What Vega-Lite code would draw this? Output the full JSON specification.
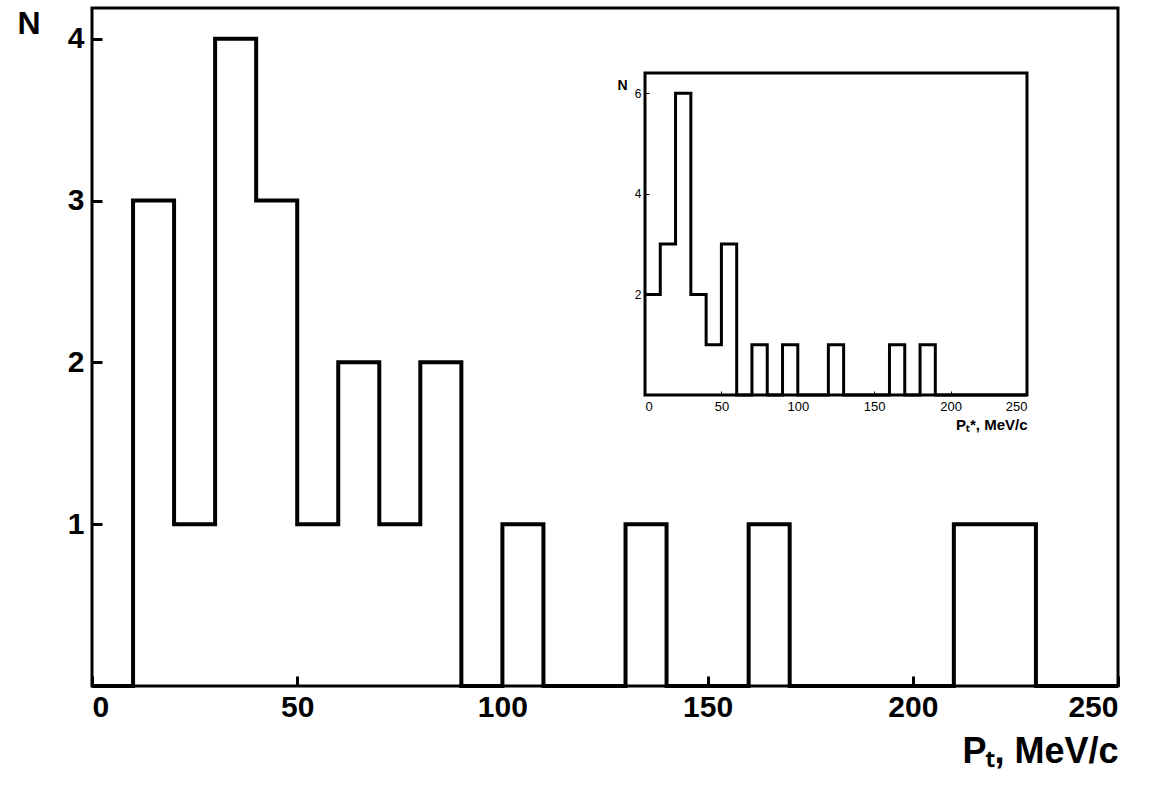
{
  "$schema": "https://vega.github.io/schema/vega-lite/v6.json",
  "width": 1026,
  "height": 678,
  "autosize": {"type": "none"},
  "padding": {"left": 92, "top": 8, "right": 41, "bottom": 116},
  "background": "white",
  "config": {
    "font": "Liberation Sans",
    "view": {"stroke": "black", "strokeWidth": 3},
    "axis": {"grid": false, "domain": false, "tickColor": "black", "labelColor": "black", "labelFont": "Liberation Sans", "labelFontWeight": "bold"}
  },
  "datasets": {
    "main": [
      {"pt": 0, "n": 0}, {"pt": 10, "n": 3}, {"pt": 20, "n": 1}, {"pt": 30, "n": 4},
      {"pt": 40, "n": 3}, {"pt": 50, "n": 1}, {"pt": 60, "n": 2}, {"pt": 70, "n": 1},
      {"pt": 80, "n": 2}, {"pt": 90, "n": 0}, {"pt": 100, "n": 1}, {"pt": 110, "n": 0},
      {"pt": 130, "n": 1}, {"pt": 140, "n": 0}, {"pt": 160, "n": 1}, {"pt": 170, "n": 0},
      {"pt": 210, "n": 1}, {"pt": 230, "n": 0}, {"pt": 250, "n": 0}
    ],
    "inset": [
      {"pt": 0, "n": 2}, {"pt": 10, "n": 3}, {"pt": 20, "n": 6}, {"pt": 30, "n": 2},
      {"pt": 40, "n": 1}, {"pt": 50, "n": 3}, {"pt": 60, "n": 0}, {"pt": 70, "n": 1},
      {"pt": 80, "n": 0}, {"pt": 90, "n": 1}, {"pt": 100, "n": 0}, {"pt": 120, "n": 1},
      {"pt": 130, "n": 0}, {"pt": 160, "n": 1}, {"pt": 170, "n": 0}, {"pt": 180, "n": 1},
      {"pt": 190, "n": 0}, {"pt": 250, "n": 0}
    ],
    "frame": [{"x0": 0, "x1": 250, "y0": 0, "y1": 6.4}]
  },
  "layer": [
    {
      "data": {"name": "main"},
      "mark": {"type": "line", "interpolate": "step-after", "color": "black", "strokeWidth": 4},
      "encoding": {
        "x": {"field": "pt", "type": "quantitative", "scale": {"domain": [0, 250], "nice": false},
          "axis": {"orient": "bottom", "values": [0, 50, 100, 150, 200, 250], "tickSize": -10, "tickWidth": 3, "labelFontSize": 30, "labelPadding": 16,
            "title": "Pₜ, MeV/c", "titleFontSize": 36, "titleFontWeight": "bold", "titleAnchor": "end", "titlePadding": 12, "titleColor": "black"}},
        "y": {"field": "n", "type": "quantitative", "scale": {"domain": [0, 4.19], "nice": false},
          "axis": {"orient": "left", "values": [1, 2, 3, 4], "tickSize": -10, "tickWidth": 3, "labelFontSize": 30, "labelPadding": 18,
            "title": "N", "titleAngle": 0, "titleFontSize": 32, "titleFontWeight": "bold", "titleAnchor": "end", "titleAlign": "right", "titleBaseline": "top", "titleX": -52, "titleY": 0, "titleColor": "black"}}
      }
    },
    {
      "data": {"name": "frame"},
      "mark": {"type": "rect", "fill": null, "stroke": "black", "strokeWidth": 3},
      "encoding": {
        "x": {"field": "x0", "type": "quantitative", "scale": {"domain": [0, 250], "range": [553, 935], "nice": false}, "axis": null},
        "x2": {"field": "x1"},
        "y": {"field": "y0", "type": "quantitative", "scale": {"domain": [0, 6.4], "range": [387, 65], "nice": false}, "axis": null},
        "y2": {"field": "y1"}
      }
    },
    {
      "data": {"name": "inset"},
      "mark": {"type": "line", "interpolate": "step-after", "color": "black", "strokeWidth": 3},
      "encoding": {
        "x": {"field": "pt", "type": "quantitative", "scale": {"domain": [0, 250], "range": [553, 935], "nice": false},
          "axis": {"orient": "bottom", "offset": -291, "values": [0, 50, 100, 150, 200, 250], "tickSize": -4, "labelFontSize": 13, "labelFontWeight": "normal", "labelPadding": 9,
            "title": "Pₜ*, MeV/c", "titleFontSize": 15, "titleFontWeight": "bold", "titleAnchor": "end", "titlePadding": 4, "titleColor": "black"}},
        "y": {"field": "n", "type": "quantitative", "scale": {"domain": [0, 6.4], "range": [387, 65], "nice": false},
          "axis": {"orient": "left", "offset": -553, "values": [2, 4, 6], "tickSize": -4, "labelFontSize": 12, "labelFontWeight": "normal", "labelPadding": 8,
            "title": "N", "titleAngle": 0, "titleFontSize": 14, "titleFontWeight": "bold", "titleAlign": "right", "titleBaseline": "top", "titleX": -18, "titleY": 70, "titleColor": "black"}}
      }
    }
  ],
  "resolve": {"scale": {"x": "independent", "y": "independent"}, "axis": {"x": "independent", "y": "independent"}}
}
